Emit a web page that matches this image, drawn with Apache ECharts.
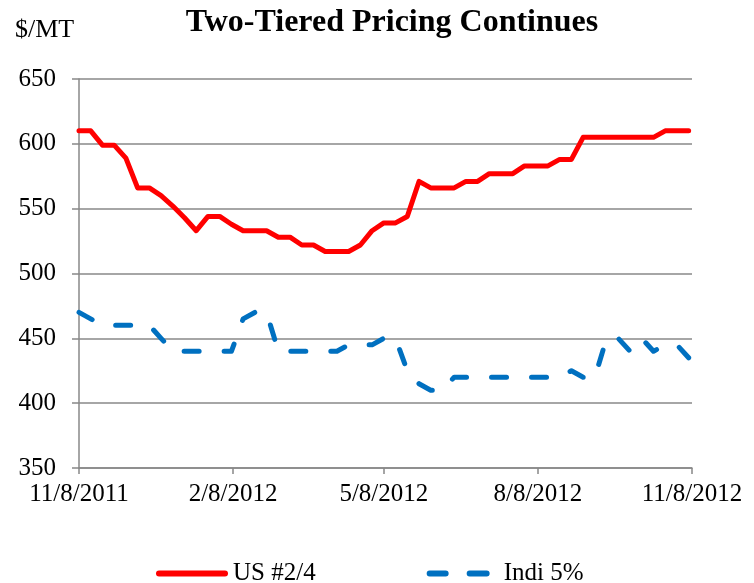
<!DOCTYPE html>
<html><head><meta charset="utf-8">
<script src="https://cdn.jsdelivr.net/npm/echarts@6/dist/echarts.min.js"></script>
<style>html,body{margin:0;padding:0;background:#fff}#c{width:754px;height:583px}</style>
</head><body><div id="c"></div>
<script>
// Weekly observation dates
var dates = ['11/8/2011','11/15/2011','11/22/2011','11/29/2011','12/6/2011','12/13/2011','12/20/2011','12/27/2011',
 '1/3/2012','1/10/2012','1/17/2012','1/24/2012','1/31/2012','2/7/2012','2/14/2012','2/21/2012','2/28/2012',
 '3/6/2012','3/13/2012','3/20/2012','3/27/2012','4/3/2012','4/10/2012','4/17/2012','4/24/2012',
 '5/1/2012','5/8/2012','5/15/2012','5/22/2012','5/29/2012','6/5/2012','6/12/2012','6/19/2012','6/26/2012',
 '7/3/2012','7/10/2012','7/17/2012','7/24/2012','7/31/2012','8/7/2012','8/14/2012','8/21/2012','8/28/2012',
 '9/4/2012','9/11/2012','9/18/2012','9/25/2012','10/2/2012','10/9/2012','10/16/2012','10/23/2012','10/30/2012','11/6/2012'];
var usValues = [610,610,599,599,589,566,566,560,552,543,533,544,544,538,533,533,533,528,528,522,522,517,517,517,522,533,539,539,544,571,566,566,566,571,571,577,577,577,583,583,583,588,588,605,605,605,605,605,605,605,610,610,610];
var indiValues = [470,465,460,460,460,460,460,450,440,440,440,440,440,440,465,470,470,440,440,440,440,440,440,445,445,445,450,450,425,415,410,410,420,420,420,420,420,420,420,420,420,420,425,420,420,450,450,440,450,440,445,445,435];
var xTickLabels = ['11/8/2011','2/8/2012','5/8/2012','8/8/2012','11/8/2012'];
var seriesNames = ['US #2/4','Indi 5%'];
var seriesColors = ['#FF0000','#0070C0'];
var yMin = 350, yMax = 650, yStep = 50;

function toTs(s){var p=s.split('/');return Date.UTC(+p[2],+p[0]-1,+p[1]);}
var t0 = toTs(xTickLabels[0]);
function dayOf(s){return Math.round((toTs(s)-t0)/86400000);}
var tickDays = xTickLabels.map(dayOf);
function fmt(v){var i=tickDays.indexOf(Math.round(v));return i>=0?xTickLabels[i]:'';}
var font = '"Liberation Serif","Times New Roman",serif';
var gridColor = '#888888';
var solidIcon = 'path://M3,0 L69,0 A3,3 0 0 1 69,6 L3,6 A3,3 0 0 1 3,0 Z';
var dashIcon = 'path://M3,0 L19,0 A3,3 0 0 1 19,6 L3,6 A3,3 0 0 1 3,0 Z M43,0 L60,0 A3,3 0 0 1 60,6 L43,6 A3,3 0 0 1 43,0 Z M71.9,2.9 L72,2.9 L72,3.1 L71.9,3.1 Z';

var chart = echarts.init(document.getElementById('c'));
chart.setOption({
  animation:false,
  backgroundColor:'#fff',
  title:[
    {text:'Two-Tiered Pricing Continues',left:387,top:2,textAlign:'center',
     textStyle:{fontFamily:font,fontSize:32,fontWeight:'bold',color:'#000'}},
    {text:'$/MT',left:10,top:12,textStyle:{fontFamily:font,fontSize:26,fontWeight:'normal',color:'#000'}}
  ],
  legend:{
    left:151,top:556,itemWidth:72,itemHeight:6,itemGap:111,
    textStyle:{fontFamily:font,fontSize:25,color:'#000'},
    data:[
      {name:seriesNames[0],icon:solidIcon,itemStyle:{color:seriesColors[0]}},
      {name:seriesNames[1],icon:dashIcon,itemStyle:{color:seriesColors[1]}}
    ]
  },
  grid:{left:79,right:62,top:79,bottom:115,containLabel:false},
  xAxis:{
    type:'value',min:tickDays[0],max:tickDays[tickDays.length-1],
    axisLine:{show:true,lineStyle:{color:gridColor,width:1.5}},
    axisTick:{show:true,customValues:tickDays,length:6,lineStyle:{color:gridColor,width:1.5}},
    axisLabel:{customValues:tickDays,formatter:fmt,fontFamily:font,fontSize:25,color:'#000',margin:14,hideOverlap:false,showMinLabel:true,showMaxLabel:true},
    splitLine:{show:false}
  },
  yAxis:{
    type:'value',min:yMin,max:yMax,interval:yStep,
    axisLine:{show:true,lineStyle:{color:gridColor,width:1.5}},
    axisTick:{show:true,length:7,lineStyle:{color:gridColor,width:1.5}},
    axisLabel:{fontFamily:font,fontSize:25,color:'#000',margin:23},
    splitLine:{show:true,lineStyle:{color:gridColor,width:1.5}}
  },
  series:[
    {name:seriesNames[0],type:'line',symbol:'none',
     data:dates.map(function(d,i){return [dayOf(d),usValues[i]];}),
     lineStyle:{color:seriesColors[0],width:5,cap:'round',join:'round'},itemStyle:{color:seriesColors[0]}},
    {name:seriesNames[1],type:'line',symbol:'none',
     data:dates.map(function(d,i){return [dayOf(d),indiValues[i]];}),
     lineStyle:{color:seriesColors[1],width:5,type:[15,25],cap:'round',join:'round'},itemStyle:{color:seriesColors[1]}}
  ]
});
</script></body></html>
